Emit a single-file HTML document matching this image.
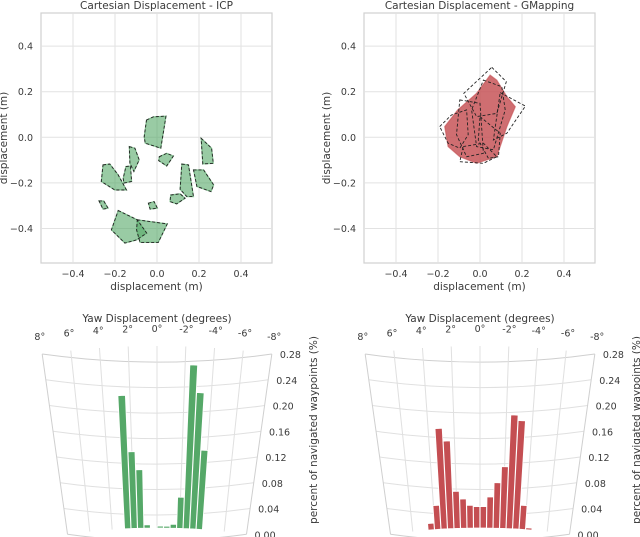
<!DOCTYPE html>
<html><head><meta charset="utf-8"><style>
html,body{margin:0;padding:0;background:#fff;}
svg{display:block;font-family:"DejaVu Sans","Liberation Sans",sans-serif;}
text{fill:#3a3a3a;}
</style></head><body>
<svg id="fig" width="640" height="537" viewBox="0 0 640 537" xmlns="http://www.w3.org/2000/svg"></svg>
<script>
// ---------- data ----------
const cartTicks = [-0.4, -0.2, 0.0, 0.2, 0.4];
const cartTickLabels = ["\u22120.4", "\u22120.2", "0.0", "0.2", "0.4"];
const icpHulls = [
 [[-0.05,0.076],[-0.017,0.09],[0.043,0.093],[0.018,-0.048],[-0.056,-0.026],[-0.061,0.003]],
 [[0.011,-0.085],[0.046,-0.07],[0.078,-0.082],[0.046,-0.126],[0.008,-0.102]],
 [[0.21,-0.004],[0.26,-0.048],[0.268,-0.114],[0.218,-0.117]],
 [[-0.132,-0.041],[-0.105,-0.048],[-0.085,-0.099],[-0.11,-0.15],[-0.129,-0.114]],
 [[-0.257,-0.121],[-0.225,-0.117],[-0.185,-0.165],[-0.145,-0.231],[-0.201,-0.231],[-0.265,-0.194]],
 [[-0.148,-0.128],[-0.126,-0.126],[-0.121,-0.194],[-0.158,-0.201],[-0.161,-0.18]],
 [[0.118,-0.117],[0.15,-0.121],[0.174,-0.26],[0.142,-0.26],[0.11,-0.228]],
 [[0.174,-0.143],[0.222,-0.143],[0.27,-0.209],[0.257,-0.238],[0.19,-0.216]],
 [[0.065,-0.253],[0.11,-0.248],[0.134,-0.267],[0.094,-0.292],[0.062,-0.282]],
 [[-0.041,-0.289],[-0.014,-0.282],[0.002,-0.311],[-0.033,-0.315]],
 [[-0.276,-0.279],[-0.254,-0.279],[-0.233,-0.311],[-0.257,-0.315]],
 [[-0.185,-0.321],[-0.094,-0.362],[-0.049,-0.42],[-0.097,-0.45],[-0.153,-0.464],[-0.217,-0.406]],
 [[-0.094,-0.362],[0.049,-0.38],[0.006,-0.461],[-0.081,-0.461],[-0.097,-0.406]]
];
const gmapHulls = [
 [[0.056,0.307],[0.125,0.244],[0.08,0.105],[-0.016,0.091],[-0.077,0.193]],
 [[0.016,0.251],[0.104,0.222],[0.12,0.12],[0.064,-0.055],[-0.016,-0.041],[-0.04,0.12]],
 [[0.096,0.196],[0.216,0.137],[0.128,0.018],[0.064,-0.012]],
 [[-0.192,0.047],[-0.136,0.098],[-0.064,0.12],[-0.056,0.012],[-0.096,-0.048],[-0.152,-0.026]],
 [[-0.096,0.164],[0,0.149],[0.016,-0.07],[-0.064,-0.085],[-0.112,0.012]],
 [[-0.08,-0.041],[0.016,-0.026],[0.08,-0.085],[0.016,-0.114],[-0.096,-0.107]],
 [[0,0.091],[0.096,0.018],[0.088,-0.085],[0.04,-0.092],[-0.008,-0.012]]
];
const gmapBlob = [[-0.106,0.12],[-0.016,0.193],[0.048,0.273],[0.08,0.251],[0.128,0.178],[0.168,0.134],[0.128,0.047],[0.08,-0.085],[-0.016,-0.114],[-0.096,-0.085],[-0.152,-0.041],[-0.168,0.047]];

const yawTicks = [8, 6, 4, 2, 0, -2, -4, -6, -8];
const radTicks = [0.00, 0.04, 0.08, 0.12, 0.16, 0.20, 0.24, 0.28];
const icpYawAngles = [2.61, 2.03, 1.45, 0.87, -0.29, -0.87, -1.45, -2.03, -2.61, -3.19, -3.77];
const icpYawValues = [0.205, 0.118, 0.09, 0.005, 0.003, 0.003, 0.006, 0.048, 0.252, 0.21, 0.122];
const gmapYawAngles = [4.35, 3.77, 3.19, 2.61, 2.03, 1.45, 0.87, 0.29, -0.29, -0.87, -1.45, -2.03, -2.61, -3.19, -3.77, -4.35];
const gmapYawValues = [0.01, 0.037, 0.155, 0.135, 0.057, 0.045, 0.035, 0.033, 0.033, 0.048, 0.07, 0.095, 0.175, 0.167, 0.037, 0.003];

// ---------- helpers ----------
const NS = "http://www.w3.org/2000/svg";
const fig = document.getElementById('fig');
function mk(tag, attrs, parent, txt){
  const e = document.createElementNS(NS, tag);
  for (const k in attrs) e.setAttribute(k, attrs[k]);
  if (txt !== undefined) e.textContent = txt;
  (parent || fig).appendChild(e);
  return e;
}

// ---------- cartesian panels ----------
function cartesian(x0, x1, zeroX, title, hulls, fillPolys, color, opac, name){
  const g = mk('g', {});
  
  
  const top = 13, bot = 263, zeroY = 137.3, sx = 210, sy = 228;
  const X = v => zeroX + v * sx;
  const Y = v => zeroY - v * sy;
  const frame = mk('rect', {x:x0, y:top, width:x1-x0, height:bot-top, fill:'#fff', stroke:'#d0d0d0', 'stroke-width':1.2}, g);
  
  
  cartTicks.forEach((t, i) => {
    const vl = mk('line', {x1:X(t), x2:X(t), y1:top, y2:bot, stroke:'#e2e2e2', 'stroke-width':1}, g);
    
    
    const hl = mk('line', {x1:x0, x2:x1, y1:Y(t), y2:Y(t), stroke:'#e2e2e2', 'stroke-width':1}, g);
    
    
    const xl = mk('text', {x:X(t), y:277, 'font-size':9.5, 'text-anchor':'middle'}, g, cartTickLabels[i]);
    
    
    const yl = mk('text', {x:x0-8, y:Y(t)+3.5, 'font-size':9.5, 'text-anchor':'end'}, g, cartTickLabels[i]);
    
    
  });
  const pts = p => p.map(q => X(q[0]).toFixed(1) + ',' + Y(q[1]).toFixed(1)).join(' ');
  fillPolys.forEach(p => {
    const f = mk('polygon', {points:pts(p), fill:color, 'fill-opacity':opac, stroke:color, 'stroke-width':1.2, 'stroke-opacity':0.6}, g);
    
    
  });
  hulls.forEach(p => {
    const h = mk('polygon', {points:pts(p), fill:'none', stroke:'#222', 'stroke-width':0.9, 'stroke-dasharray':'3,2'}, g);
    
    
  });
  const t = mk('text', {x:(x0+x1)/2, y:9, 'font-size':10.5, 'text-anchor':'middle'}, g, title);
  
  
  const xt = mk('text', {x:(x0+x1)/2, y:290, 'font-size':10.5, 'text-anchor':'middle'}, g, 'displacement (m)');
  
  
  const yx = x0 - 34;
  const yt = mk('text', {x:yx, y:138, 'font-size':10.5, 'text-anchor':'middle', transform:'rotate(-90 '+yx+' 138)'}, g, 'displacement (m)');
  
  
}
cartesian(41, 272, 157, 'Cartesian Displacement - ICP', icpHulls, icpHulls, '#55a868', 0.6, 'icp-cartesian-panel');
cartesian(364, 595, 480, 'Cartesian Displacement - GMapping', gmapHulls, [gmapBlob], '#c44e52', 0.82, 'gmapping-cartesian-panel');

// ---------- polar panels ----------
function polar(cx, angles, values, color, name){
  const g = mk('g', {});
  
  
  const cy = 1171, R0 = 643, R1 = 825, rmax = 0.28;
  const R = v => R0 + v / rmax * (R1 - R0);
  const P = (deg, r) => { const a = deg * Math.PI / 180; return [cx - r * Math.sin(a), cy - r * Math.cos(a)]; };
  const arc = (r, a0, a1) => { const p0 = P(a0, r), p1 = P(a1, r); return 'M'+p0[0].toFixed(2)+','+p0[1].toFixed(2)+' A'+r+','+r+' 0 0 0 '+p1[0].toFixed(2)+','+p1[1].toFixed(2); };
  radTicks.forEach(v => {
    const edge = (v === 0 || v === rmax);
    const a = mk('path', {d:arc(R(v), 8, -8), fill:'none', stroke: edge ? '#cfcfcf' : '#e0e0e0', 'stroke-width':1}, g);
    
    
    const p = P(-8, R(v));
    const l = mk('text', {x:p[0]+8, y:p[1]+4, 'font-size':9.5, 'text-anchor':'start'}, g, v.toFixed(2));
    
    
  });
  yawTicks.forEach(d => {
    const p0 = P(d, R0), p1 = P(d, R1);
    const edge = Math.abs(d) === 8;
    const s = mk('line', {x1:p0[0], y1:p0[1], x2:p1[0], y2:p1[1], stroke: edge ? '#cfcfcf' : '#e0e0e0', 'stroke-width':1}, g);
    
    
    const q = P(d, R1 + 17);
    const l = mk('text', {x:q[0], y:q[1]+3, 'font-size':9.5, 'text-anchor':'middle'}, g, d + '\u00b0');
    
    
  });
  const w = 0.55;
  angles.forEach((ang, i) => {
    const r = R(values[i]);
    const a0 = ang + w/2, a1 = ang - w/2;
    const p0 = P(a0, R0), p1 = P(a0, r), p2 = P(a1, r), p3 = P(a1, R0);
    const d = 'M'+p0.join(',')+' L'+p1.join(',')+' A'+r+','+r+' 0 0 0 '+p2.join(',')+' L'+p3.join(',')+' A'+R0+','+R0+' 0 0 1 '+p0.join(',')+'Z';
    const b = mk('path', {d:d, fill:color, stroke:'#fff', 'stroke-width':0.8}, g);
    
    
  });
  const t = mk('text', {x:cx, y:322, 'font-size':10.5, 'text-anchor':'middle'}, g, 'Yaw Displacement (degrees)');
  
  
  const yx = cx + 160, yy = 430;
  const yt = mk('text', {x:yx, y:yy, 'font-size':10.5, 'text-anchor':'middle', transform:'rotate(-90 '+yx+' '+yy+')'}, g, 'percent of navigated waypoints (%)');
  
  
}
polar(157, icpYawAngles, icpYawValues, '#55a868', 'icp-yaw-panel');
polar(480, gmapYawAngles, gmapYawValues, '#c44e52', 'gmapping-yaw-panel');
</script>
</body></html>
